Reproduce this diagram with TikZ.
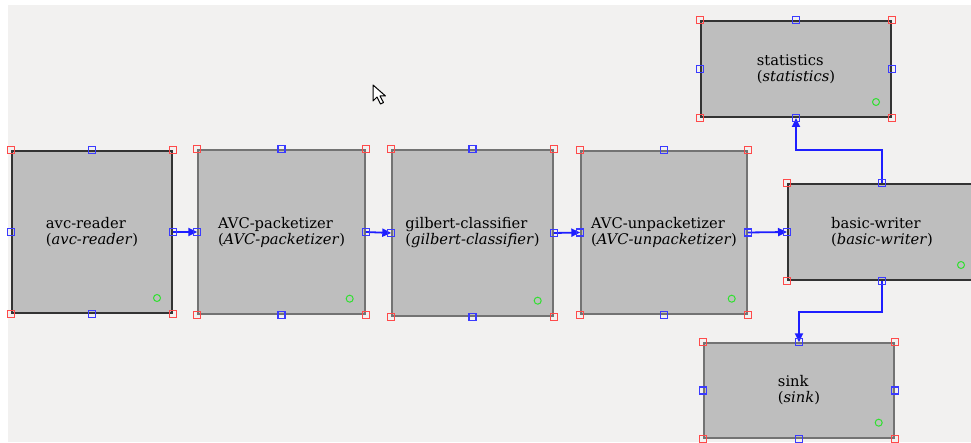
\documentclass[tikz,border=0pt]{standalone}
\usepackage{fontspec}
\setmainfont{DejaVu Serif}
\usetikzlibrary{arrows.meta}
\definecolor{canvas}{HTML}{F2F1F0}
\definecolor{blockfill}{HTML}{BEBEBE}
\definecolor{linkblue}{HTML}{1E1EFF}
\definecolor{cornerred}{HTML}{FF4A4A}
\definecolor{sideblue}{HTML}{3A3AFF}
\definecolor{okgreen}{HTML}{30E030}

\tikzset{
  block/.style={draw=black!55, line width=1.4pt, fill=blockfill, inner sep=0pt,
    align=left, font=\fontsize{14.7}{16}\selectfont},
  active/.style={draw=black!80, line width=2pt},
  link/.style={linkblue, line width=1.8pt, -{Triangle[length=9pt,width=8pt]}},
}
% resize handles round one block
\newcommand{\handles}[1]{%
  \foreach \a in {north west, north east, south west, south east}
    {\draw[cornerred, line width=1.1pt] ([shift={(-3.5,-3.5)}]#1.\a) rectangle ++(7,7);}
  \foreach \a in {north, south, east, west}
    {\draw[sideblue, line width=1.1pt] ([shift={(-3.5,-3.5)}]#1.\a) rectangle ++(7,7);}
  \draw[okgreen, line width=1pt] ([shift={(-16,-16)}]#1.south east) circle (3.5);
}

\begin{document}
\begin{tikzpicture}[x=1pt, y=-1pt]
  % Canvas
  \useasboundingbox (0,0) rectangle (971,443);
  \clip (0,0) rectangle (971,443);
  \fill[white] (0,0) rectangle (971,443);
  \fill[canvas] (8,5) rectangle (971,442);

  % Blocks of the pipeline
  \node[block, active, minimum width=160pt, minimum height=162pt] (reader) at (92,232)
    {avc-reader\\(\textit{avc-reader})};
  \node[block, minimum width=167pt, minimum height=164pt] (packetizer) at (281.5,232)
    {AVC-packetizer\\(\textit{AVC-packetizer})};
  \node[block, minimum width=161pt, minimum height=166pt] (classifier) at (472.5,233)
    {gilbert-classifier\\(\textit{gilbert-classifier})};
  \node[block, minimum width=166pt, minimum height=163pt] (unpacketizer) at (664,232.5)
    {AVC-unpacketizer\\(\textit{AVC-unpacketizer})};
  \node[block, active, minimum width=188pt, minimum height=96pt] (writer) at (882,232)
    {basic-writer\\(\textit{basic-writer})};
  \node[block, active, minimum width=190pt, minimum height=96pt] (statistics) at (796,69)
    {statistics\\(\textit{statistics})};
  \node[block, minimum width=190pt, minimum height=95pt] (sink) at (799,390.5)
    {sink\\(\textit{sink})};

  % Links
  \draw[link] (reader.east) -- (packetizer.west);
  \draw[link] (packetizer.east) -- (classifier.west);
  \draw[link] (classifier.east) -- (unpacketizer.west);
  \draw[link] (unpacketizer.east) -- (writer.west);
  \draw[link] (writer.north) -- ++(0,-33) -| (statistics.south);
  \draw[link] (writer.south) -- ++(0,31) -| (sink.north);

  % Handles
  \foreach \n in {reader, packetizer, classifier, unpacketizer, writer, statistics, sink}
    {\handles{\n}}

  % Mouse pointer
  \draw[black, fill=white, line width=1pt, line join=round]
    (373,85) -- (373,101) -- (377,97) -- (380.5,104) -- (383.5,102.5)
    -- (380,96) -- (385.5,96) -- cycle;
\end{tikzpicture}
\end{document}
